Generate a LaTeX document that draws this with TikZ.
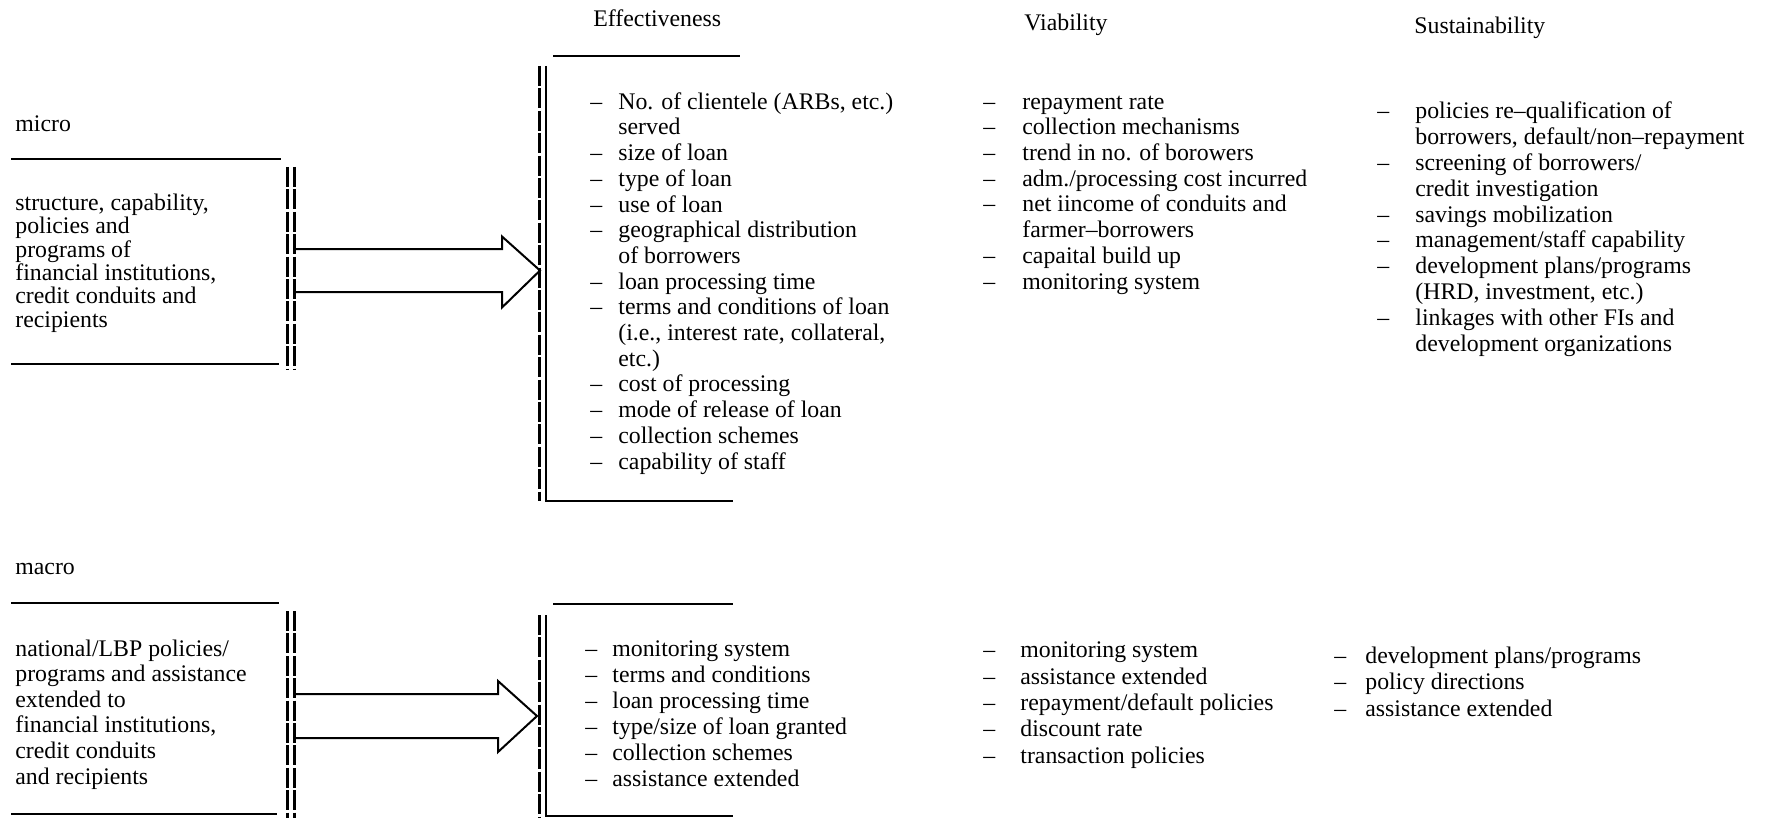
\documentclass[tikz,border=0pt]{standalone}
\usepackage{fontspec}
\setmainfont{Liberation Serif}
\usetikzlibrary{calc}
\newcommand\di[2]{\makebox[#1][l]{–}#2}
\newcommand\ci[2]{\hspace*{#1}#2}
\begin{document}
\begin{tikzpicture}[x=0.5pt,y=-0.5pt,
  txt/.style={anchor=base west, inner sep=0pt, align=left, font=\fontsize{11.9}{#1}\selectfont},
  txt/.default=12.9,
  rulel/.style={line width=1.1pt},
  barl/.style={line width=1.5pt, dash pattern=on 10pt off 1.2pt},
  blockarrow/.style={line width=1pt, line join=miter}]
\useasboundingbox (0,0) rectangle (1765,818);

% headings (single line: base = baseline)
\node[txt] (hE) at (593,27) {Effectiveness};
\node[txt] (hV) at (1024,31) {Viability};
\node[txt] (hS) at (1414,34) {Sustainability};
\node[txt] (micro) at (15,132) {micro};
\node[txt] (macro) at (15,574) {macro};

% multi-line nodes: base anchor = baseline of the LAST line

% ---------------- micro ----------------
\draw[rulel] (11,159) -- (281,159);
\draw[rulel] (11,364) -- (279,364);
\draw[barl] (287,167) -- (287,370);
\draw[barl] (294,167) -- (294,370);
\node[txt=11.65] (microtxt) at (15,327) {structure, capability,\\policies and\\programs of\\financial institutions,\\credit conduits and\\recipients};

% effectiveness box (top)
\draw[rulel] (553,56) -- (740,56);
\draw[barl] (539,66) -- (539,501);
\draw[rulel] (546,66) -- (546,501) -- (733,501);

\coordinate (mA) at (296,270.5);
\coordinate (eA) at (540,270.5);
\draw[blockarrow] ($(mA)+(0,-21.5)$) -- ($(eA)+(-38,-21.5)$) -- ($(eA)+(-38,-34)$) -- (eA)
  -- ($(eA)+(-38,37)$) -- ($(eA)+(-38,21.5)$) -- ($(mA)+(0,21.5)$);

\node[txt=12.85] (effA) at (590,469) {\di{14pt}{No. of clientele (ARBs, etc.)}\\
\ci{14pt}{served}\\
\di{14pt}{size of loan}\\
\di{14pt}{type of loan}\\
\di{14pt}{use of loan}\\
\di{14pt}{geographical distribution}\\
\ci{14pt}{of borrowers}\\
\di{14pt}{loan processing time}\\
\di{14pt}{terms and conditions of loan}\\
\ci{14pt}{(i.e., interest rate, collateral,}\\
\ci{14pt}{etc.)}\\
\di{14pt}{cost of processing}\\
\di{14pt}{mode of release of loan}\\
\di{14pt}{collection schemes}\\
\di{14pt}{capability of staff}};

\node[txt=12.85] (viaA) at (983,289) {\di{19.5pt}{repayment rate}\\
\di{19.5pt}{collection mechanisms}\\
\di{19.5pt}{trend in no. of borowers}\\
\di{19.5pt}{adm./processing cost incurred}\\
\di{19.5pt}{net iincome of conduits and}\\
\ci{19.5pt}{farmer–borrowers}\\
\di{19.5pt}{capaital build up}\\
\di{19.5pt}{monitoring system}};

\node[txt=12.9] (susA) at (1377,351) {\di{19pt}{policies re–qualification of}\\
\ci{19pt}{borrowers, default/non–repayment}\\
\di{19pt}{screening of borrowers/}\\
\ci{19pt}{credit investigation}\\
\di{19pt}{savings mobilization}\\
\di{19pt}{management/staff capability}\\
\di{19pt}{development plans/programs}\\
\ci{19pt}{(HRD, investment, etc.)}\\
\di{19pt}{linkages with other FIs and}\\
\ci{19pt}{development organizations}};

% ---------------- macro ----------------
\draw[rulel] (11,603) -- (279,603);
\draw[rulel] (11,814) -- (277,814);
\draw[barl] (287,611) -- (287,818);
\draw[barl] (294,611) -- (294,818);
\node[txt=12.8] (macrotxt) at (15,784) {national/LBP policies/\\programs and assistance\\extended to\\financial institutions,\\credit conduits\\and recipients};

\draw[rulel] (553,604) -- (733,604);
\draw[barl] (539,615) -- (539,818);
\draw[rulel] (546,615) -- (546,816) -- (733,816);

\coordinate (mB) at (296,716);
\coordinate (eB) at (537,716);
\draw[blockarrow] ($(mB)+(0,-22)$) -- ($(eB)+(-39,-22)$) -- ($(eB)+(-39,-35)$) -- (eB)
  -- ($(eB)+(-39,36)$) -- ($(eB)+(-39,22)$) -- ($(mB)+(0,22)$);

\node[txt=13] (effB) at (585,786) {\di{13.5pt}{monitoring system}\\
\di{13.5pt}{terms and conditions}\\
\di{13.5pt}{loan processing time}\\
\di{13.5pt}{type/size of loan granted}\\
\di{13.5pt}{collection schemes}\\
\di{13.5pt}{assistance extended}};

\node[txt=13.15] (viaB) at (983,763) {\di{18.5pt}{monitoring system}\\
\di{18.5pt}{assistance extended}\\
\di{18.5pt}{repayment/default policies}\\
\di{18.5pt}{discount rate}\\
\di{18.5pt}{transaction policies}};

\node[txt=13.15] (susB) at (1334,716) {\di{15.5pt}{development plans/programs}\\
\di{15.5pt}{policy directions}\\
\di{15.5pt}{assistance extended}};
\end{tikzpicture}
\end{document}
